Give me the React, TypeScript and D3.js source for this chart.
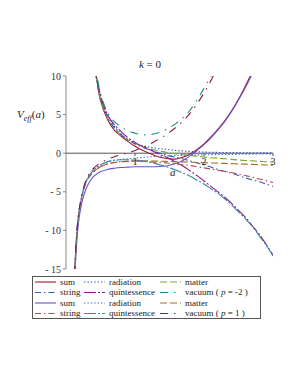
import * as d3 from 'd3';

// scale factor a, sampled for the p = -2 family (comes down from +inf)
const A_HI = [0.38, 0.42, 0.45, 0.5, 0.6, 0.7, 0.8, 0.9, 1.0, 1.1, 1.2, 1.3, 1.4, 1.5, 1.6, 1.7, 1.8, 1.9, 2.0, 2.1, 2.2, 2.3, 2.4, 2.5, 2.6, 2.7, 2.8, 2.9, 3.0];
const SUM_M2 = [14, 11, 9.3, 6.8, 4.4, 3.0, 2.2, 1.5, 0.9, 0.4, 0.0, -0.35, -0.6, -0.75, -0.75, -0.5, -0.1, 0.5, 1.2, 2.1, 3.1, 4.2, 5.5, 7.0, 8.7, 10.6, 12.7, null, null];
const STRING_M2 = [14, 11, 9.4, 7.2, 4.7, 3.3, 2.4, 1.7, 1.2, 0.8, 0.45, 0.15, -0.1, -0.35, -0.55, -0.75, -1.0, -1.25, -1.5, -1.8, -2.1, -2.35, -2.6, -2.9, -3.2, -3.45, -3.7, -4.0, -4.3];
const RAD_M2 = [14.5, 11.3, 9.6, 7.5, 5.0, 3.5, 2.5, 1.8, 1.3, 1.0, 0.8, 0.65, 0.55, 0.45, 0.35, 0.28, 0.22, 0.18, 0.15, 0.12, 0.1, 0.09, 0.08, 0.07, 0.06, 0.05, 0.05, 0.04, 0.04];
const QUIN_M2 = [14, 11, 9.5, 7.5, 5.0, 3.7, 2.8, 2.0, 1.4, 0.9, 0.5, 0.1, -0.3, -0.7, -1.2, -1.7, -2.3, -2.9, -3.6, -4.3, -5.0, -5.7, -6.5, -7.4, -8.3, -9.4, -10.5, -11.8, -13.2];
const MAT_M2 = [14, 10.8, 9.2, 7.0, 4.6, 3.2, 2.3, 1.7, 1.25, 0.9, 0.6, 0.38, 0.2, 0.05, -0.1, -0.2, -0.3, -0.4, -0.5, -0.58, -0.65, -0.72, -0.8, -0.88, -0.95, -1.0, -1.05, -1.1, -1.15];
const VAC_M2 = [15, 11.6, 9.9, 7.8, 5.3, 4.1, 3.4, 2.9, 2.6, 2.4, 2.4, 2.55, 2.85, 3.3, 3.9, 4.6, 5.6, 6.9, 8.4, 10.0, 11.8, null, null, null, null, null, null, null, null];

// p = 1 family (comes up from -inf)
const A_LO = [0.1, 0.12, 0.14, 0.16, 0.18, 0.2, 0.25, 0.3, 0.35, 0.4, 0.5, 0.6, 0.7, 0.8, 0.9, 1.0, 1.1, 1.2, 1.3, 1.4, 1.5, 1.6, 1.7, 1.8, 1.9, 2.0, 2.1, 2.2, 2.3, 2.4, 2.5, 2.6, 2.7, 2.8, 2.9, 3.0];
const SUM_P1 = [-25, -18, -13.8, -11, -9.1, -7.8, -5.7, -4.4, -3.6, -3.0, -2.4, -2.1, -1.95, -1.85, -1.8, -1.75, -1.75, -1.75, -1.75, -1.7, -1.55, -1.3, -0.9, -0.35, 0.35, 1.1, 2.0, 3.0, 4.1, 5.4, 6.9, 8.5, 10.3, 12.3, null, null];
const STRING_P1 = [-24, -17, -12.9, -10.1, -8.2, -7.0, -4.9, -3.6, -2.9, -2.4, -1.75, -1.4, -1.2, -1.1, -1.05, -1.05, -1.05, -1.1, -1.15, -1.2, -1.3, -1.4, -1.5, -1.6, -1.75, -1.9, -2.05, -2.2, -2.35, -2.5, -2.7, -2.9, -3.1, -3.35, -3.55, -3.8];
const RAD_P1 = [-24, -16.8, -12.6, -9.9, -8.0, -6.8, -4.7, -3.4, -2.7, -2.2, -1.5, -1.15, -0.95, -0.82, -0.72, -0.63, -0.55, -0.48, -0.42, -0.37, -0.33, -0.3, -0.27, -0.24, -0.22, -0.2, -0.19, -0.17, -0.16, -0.15, -0.14, -0.13, -0.12, -0.11, -0.11, -0.1];
const QUIN_P1 = [-24, -17, -12.8, -10, -8.1, -6.9, -4.8, -3.5, -2.75, -2.2, -1.5, -1.1, -0.9, -0.85, -0.85, -0.9, -1.0, -1.15, -1.35, -1.6, -1.9, -2.2, -2.6, -3.0, -3.5, -4.0, -4.6, -5.2, -5.9, -6.7, -7.6, -8.5, -9.5, -10.7, -11.9, -13.3];
const MAT_P1 = [-24, -17, -12.9, -10.1, -8.2, -7.0, -4.9, -3.6, -2.9, -2.4, -1.75, -1.4, -1.2, -1.1, -1.05, -1.0, -1.0, -1.0, -1.02, -1.05, -1.08, -1.1, -1.13, -1.16, -1.2, -1.23, -1.26, -1.29, -1.32, -1.35, -1.38, -1.42, -1.45, -1.48, -1.52, -1.55];
const VAC_P1 = [-24, -16.9, -12.7, -9.9, -8.0, -6.8, -4.6, -3.3, -2.5, -1.95, -1.25, -0.8, -0.45, -0.2, 0.05, 0.35, 0.7, 1.1, 1.6, 2.1, 2.7, 3.4, 4.2, 5.2, 6.4, 7.8, 9.4, 11.2, null, null, null, null, null, null, null, null];

const Y_TICKS = [10, 5, 0, -5, -10, -15];
const X_TICKS = [1, 2, 3];

const DOT = '1.4,2';
const DASH = '7,3';
const DASHDOT = '6,3,1.5,3';
const LONGDASH = '12,2,2,2';
const SPACEDASH = '8,6,1.5,6';

const SERIES = [
  { name: 'sum', a: A_HI, v: SUM_M2, color: '#a3192f', dash: null },
  { name: 'radiation', a: A_HI, v: RAD_M2, color: '#3556c4', dash: DOT },
  { name: 'matter', a: A_HI, v: MAT_M2, color: '#7aa836', dash: DASH },
  { name: 'string', a: A_HI, v: STRING_M2, color: '#2e5fb0', dash: DASHDOT },
  { name: 'quintessence', a: A_HI, v: QUIN_M2, color: '#8e1890', dash: LONGDASH },
  { name: 'vacuum', a: A_HI, v: VAC_M2, color: '#168f7c', dash: SPACEDASH, p: '-2' },
  { name: 'sum', a: A_LO, v: SUM_P1, color: '#6b52c2', dash: null },
  { name: 'radiation', a: A_LO, v: RAD_P1, color: '#3a72c6', dash: DOT },
  { name: 'matter', a: A_LO, v: MAT_P1, color: '#a0701e', dash: DASH },
  { name: 'string', a: A_LO, v: STRING_P1, color: '#b44a52', dash: DASHDOT },
  { name: 'quintessence', a: A_LO, v: QUIN_P1, color: '#3a8aa6', dash: LONGDASH },
  { name: 'vacuum', a: A_LO, v: VAC_P1, color: '#8c1844', dash: SPACEDASH, p: '1' },
];

// legend grid: row -> series index per column
const LEGEND = [
  [0, 1, 2],
  [3, 4, 5],
  [6, 7, 8],
  [9, 10, 11],
];

const FONT = 'Liberation Serif, Times New Roman, serif';

export default function App() {
  const x = d3.scaleLinear().domain([0, 3]).range([66, 273]);
  const y = d3.scaleLinear().domain([-15, 10]).range([269, 76]);

  const pathOf = (a: number[], v: (number | null)[]) =>
    d3
      .line<number>()
      .defined((_, i) => v[i] != null)
      .x((_, i) => x(a[i]))
      .y((_, i) => y(v[i] as number))
      .curve(d3.curveCatmullRom)(a) ?? '';

  const legX = [35, 84, 160];
  const legY = [282, 292.5, 303, 313.5];

  return (
    <div style={{ position: 'absolute', left: 0, top: 0, width: 298, height: 385, background: '#fff' }}>
      <svg width={298} height={385} style={{ display: 'block' }} fontFamily={FONT}>
        <defs>
          <clipPath id="plot">
            <rect x={x(0)} y={y(10)} width={x(3) - x(0)} height={y(-15) - y(10)} />
          </clipPath>
        </defs>

        <text x={150} y={68} fontSize={11} textAnchor="middle" fill="#222" fontFamily={FONT}>
          <tspan fontStyle="italic">k</tspan> = 0
        </text>

        <text x={17} y={118} fontSize={11} fill="#222" fontFamily={FONT}>
          <tspan fontStyle="italic">V</tspan>
          <tspan fontStyle="italic" fontSize={8} dy={3}>eff</tspan>
          <tspan dy={-3}>(</tspan>
          <tspan fontStyle="italic">a</tspan>
          <tspan>)</tspan>
        </text>

        {/* axes */}
        <line x1={x(0)} x2={x(0)} y1={y(10)} y2={y(-15)} stroke="#8a8a8a" strokeWidth={1} />
        {Y_TICKS.map((t) => (
          <g key={t}>
            <line x1={x(0) - 3} x2={x(0)} y1={y(t)} y2={y(t)} stroke="#8a8a8a" />
            <text x={x(0) - 5} y={y(t)} dy="0.35em" fontSize={10} textAnchor="end" fill="#333" fontFamily={FONT}>
              {t < 0 ? `- ${-t}` : t}
            </text>
          </g>
        ))}
        <line x1={x(0)} x2={x(3)} y1={y(0)} y2={y(0)} stroke="#555" strokeWidth={1} />

        <g clipPath="url(#plot)" fill="none">
          {SERIES.map((s, i) => (
            <path
              key={i}
              d={pathOf(s.a, s.v)}
              stroke={s.color}
              strokeWidth={1.1}
              strokeDasharray={s.dash ?? undefined}
            />
          ))}
        </g>

        {X_TICKS.map((t) => (
          <g key={t}>
            <line x1={x(t)} x2={x(t)} y1={y(0)} y2={y(0) + 3} stroke="#555" />
            <text x={x(t)} y={y(0) + 12} fontSize={10} textAnchor="middle" fill="#222" fontFamily={FONT}>
              {t}
            </text>
          </g>
        ))}
        <text x={170} y={176} fontSize={11} fontStyle="italic" fill="#222" fontFamily={FONT}>
          a
        </text>

        {/* legend */}
        <rect x={32.5} y={276.5} width={228} height={42} fill="#fff" stroke="#555" strokeWidth={1} />
        {LEGEND.map((row, r) =>
          row.map((si, c) => {
            const s = SERIES[si];
            return (
              <g key={`${r}-${c}`}>
                <line
                  x1={legX[c]}
                  x2={legX[c] + 21}
                  y1={legY[r]}
                  y2={legY[r]}
                  stroke={s.color}
                  strokeWidth={1.1}
                  strokeDasharray={s.dash ?? undefined}
                />
                <text x={legX[c] + 25} y={legY[r]} dy="0.33em" fontSize={9} fill="#222" fontFamily={FONT}>
                  {s.name}
                  {s.p ? (
                    <>
                      {'  ( '}
                      <tspan fontStyle="italic">p</tspan>
                      {` = ${s.p} )`}
                    </>
                  ) : null}
                </text>
              </g>
            );
          })
        )}
      </svg>
    </div>
  );
}
